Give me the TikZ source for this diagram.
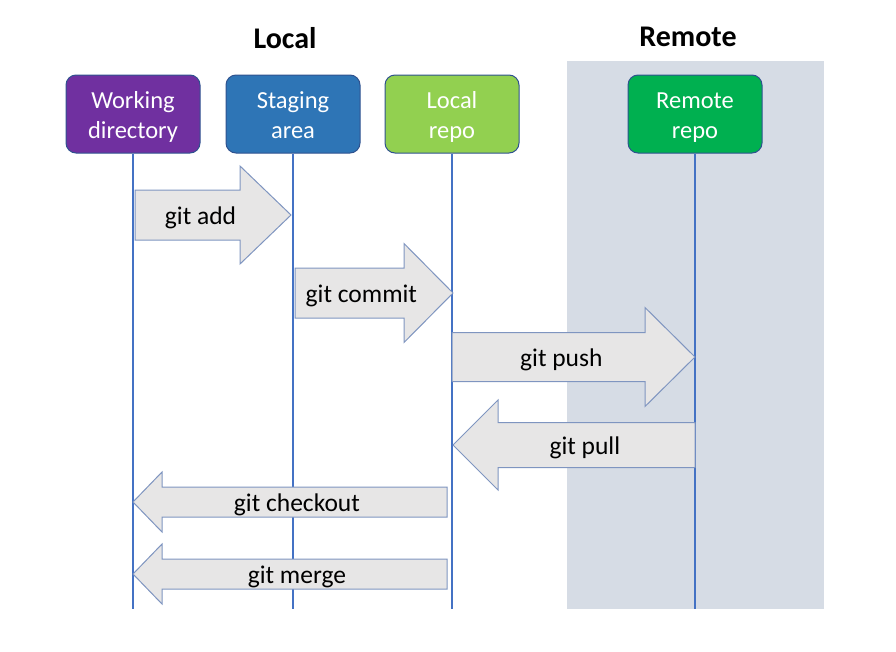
\documentclass[tikz,border=0pt]{standalone}
\usepackage{fontspec}
\setmainfont{Carlito}
\usetikzlibrary{calc}

\definecolor{wdpurple}{HTML}{7030A0}
\definecolor{sablue}{HTML}{2E75B6}
\definecolor{lrgreen}{HTML}{92D050}
\definecolor{rrgreen}{HTML}{00B050}
\definecolor{boxedge}{HTML}{2F528F}
\definecolor{lifeblue}{HTML}{4472C4}
\definecolor{arrowfill}{HTML}{E7E6E6}
\definecolor{arrowedge}{HTML}{7F95C0}
\definecolor{remotebg}{HTML}{D6DCE5}

\newcommand{\toprule}{\rule{0pt}{27pt}}

\tikzset{
  repobox/.style={draw=boxedge, line width=1pt, rounded corners=10pt, minimum width=134pt, minimum height=78pt, align=center, text=white, font=\fontsize{24.5}{30}\selectfont},
  lifeline/.style={draw=lifeblue, line width=2pt},
  gitarrow/.style={draw=arrowedge, fill=arrowfill, line width=1pt},
  gitlabel/.style={font=\fontsize{25.5}{28}\selectfont, yshift=-2.5pt},
  areatitle/.style={font=\bfseries\fontsize{30}{34}\selectfont}
}

% block arrow: tail, tip, body half, head half, head length, label pos, label
\newcommand{\blockarrow}[7]{%
  \draw[gitarrow] ($(#1)+(0,-#3)$) -- ($(#2)!#5pt!(#1)+(0,-#3)$) -- ($(#2)!#5pt!(#1)+(0,-#4)$)
    -- (#2) -- ($(#2)!#5pt!(#1)+(0,#4)$) -- ($(#2)!#5pt!(#1)+(0,#3)$) -- ($(#1)+(0,#3)$) -- cycle;
  \path (#1) -- (#2) node[pos=#6, gitlabel] {#7};
}

\begin{document}
\begin{tikzpicture}[x=1pt,y=-1pt]
\useasboundingbox (0,0) rectangle (896,651);
\fill[remotebg] (567,61) rectangle (824,609);

\node[areatitle] (localtitle) at (285,38) {Local};
\node[areatitle] (remotetitle) at (688,37) {Remote};

\node[repobox, fill=wdpurple] (wd) at (133,114) {\toprule Working\\\strut directory};
\node[repobox, fill=sablue] (sa) at (293,114) {\toprule Staging\\\strut area};
\node[repobox, fill=lrgreen] (lr) at (452,114) {\toprule Local\\\strut repo};
\node[repobox, fill=rrgreen] (rr) at (695,114) {\toprule Remote\\\strut repo};

\foreach \n in {wd,sa,lr,rr}
  \draw[lifeline] (\n.south) -- (\n.south |- 0,609);

% arrow ends on the lifelines
\coordinate (addtail) at ($(wd.south |- 0,215)+(2,0)$);
\coordinate (addtip) at ($(sa.south |- 0,215)+(-2,0)$);
\coordinate (committail) at ($(sa.south |- 0,293)+(2,0)$);
\coordinate (committip) at ($(lr.south |- 0,293)+(1,0)$);
\coordinate (pushtail) at (lr.south |- 0,357);
\coordinate (pushtip) at (rr.south |- 0,357);
\coordinate (pulltail) at (rr.south |- 0,445);
\coordinate (pulltip) at ($(lr.south |- 0,445)+(1,0)$);
\coordinate (checkouttail) at ($(lr.south |- 0,502)+(-5,0)$);
\coordinate (checkouttip) at (wd.south |- 0,502);
\coordinate (mergetail) at ($(lr.south |- 0,574)+(-5,0)$);
\coordinate (mergetip) at (wd.south |- 0,574);

\blockarrow{addtail}{addtip}{25}{49}{51}{0.42}{git add}
\blockarrow{committail}{committip}{25}{49.5}{49}{0.42}{git commit}
\blockarrow{pushtail}{pushtip}{24.5}{49.5}{50}{0.45}{git push}
\blockarrow{pulltail}{pulltip}{22.5}{45}{45}{0.455}{git pull}
\blockarrow{checkouttail}{checkouttip}{15}{30}{29}{0.478}{git checkout}
\blockarrow{mergetail}{mergetip}{15}{30}{29}{0.478}{git merge}
\end{tikzpicture}
\end{document}
